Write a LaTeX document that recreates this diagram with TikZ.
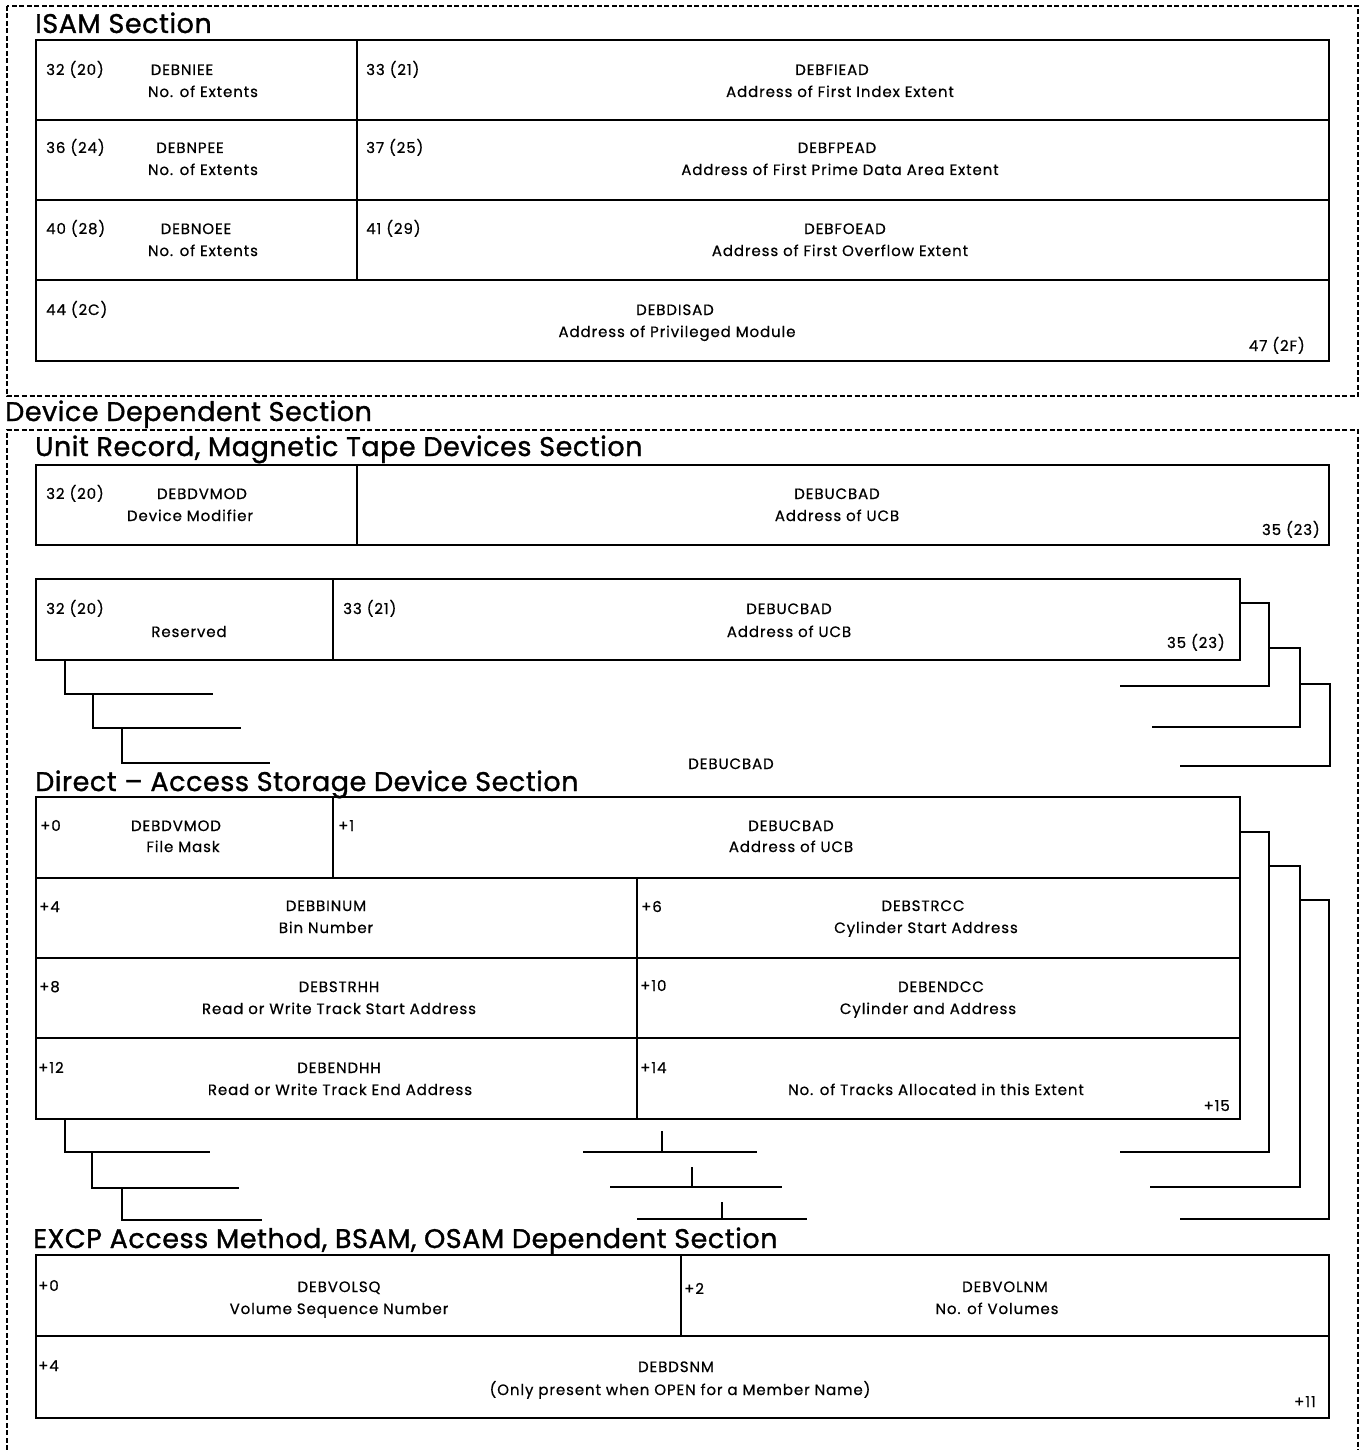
\documentclass[tikz,border=0pt]{standalone}
\usepackage{fontspec}
\newfontfamily\bodyf[LetterSpace=6,FakeBold=0.6]{Poppins}
\newfontfamily\titlef[LetterSpace=2,FakeBold=1.2]{Poppins}
\tikzset{
  cell/.style={draw, line width=2.4pt, inner sep=0pt, outer sep=0pt, anchor=north west},
  brk/.style={line width=2.4pt},
  dsh/.style={line width=1.3pt, dash pattern=on 5pt off 2.5pt},
  bt/.style={font=\bodyf\fontsize{15}{17}\selectfont, anchor=base, inner sep=0pt},
  btw/.style={bt, anchor=base west},
  bte/.style={bt, anchor=base east},
  ttl/.style={font=\titlef\fontsize{27}{31}\selectfont, anchor=base west, inner sep=0pt}
}
\newcommand\mycell[5]{\node[cell, minimum width={(#4)-(#2)}, minimum height={(#5)-(#3)}] (#1) at (#2,#3) {};}
\begin{document}
\begin{tikzpicture}[x=1pt,y=-1pt]
\useasboundingbox (0,0) rectangle (1360,1450);
% ---------- ISAM ----------
\draw[dsh] (7,6) rectangle (1358,396);
\node[ttl] (tisam) at (35,33) {ISAM Section};
\mycell{i1a}{36}{40}{357}{120}
\mycell{i1b}{357}{40}{1329}{120}
\mycell{i2a}{36}{120}{357}{200}
\mycell{i2b}{357}{120}{1329}{200}
\mycell{i3a}{36}{200}{357}{280}
\mycell{i3b}{357}{200}{1329}{280}
\mycell{i4}{36}{280}{1329}{361}
\node[btw] (o1) at (46,75) {32 (20)};
\node[bt] (n1) at (182,75) {DEBNIEE};
\node[bt] (d1) at (203,97) {No. of Extents};
\node[btw] (o2) at (366,75) {33 (21)};
\node[bt] (n2) at (832,75) {DEBFIEAD};
\node[bt] (d2) at (840,97) {Address of First Index Extent};
\node[btw] (o3) at (46,153) {36 (24)};
\node[bt] (n3) at (190,153) {DEBNPEE};
\node[bt] (d3) at (203,175) {No. of Extents};
\node[btw] (o4) at (366,153) {37 (25)};
\node[bt] (n4) at (837,153) {DEBFPEAD};
\node[bt] (d4) at (840,175) {Address of First Prime Data Area Extent};
\node[btw] (o5) at (46,234) {40 (28)};
\node[bt] (n5) at (196,234) {DEBNOEE};
\node[bt] (d5) at (203,256) {No. of Extents};
\node[btw] (o6) at (366,234) {41 (29)};
\node[bt] (n6) at (845,234) {DEBFOEAD};
\node[bt] (d6) at (840,256) {Address of First Overflow Extent};
\node[btw] (o7) at (46,315) {44 (2C)};
\node[bt] (n7) at (675,315) {DEBDISAD};
\node[bt] (d7) at (677,337) {Address of Privileged Module};
\node[bte] (e7) at (1305,351) {47 (2F)};
% ---------- Device dependent ----------
\node[ttl] (tdev) at (5,421) {Device Dependent Section};
\draw[dsh] (7,1450) -- (7,430) -- (1358,430) -- (1358,1450);
\node[ttl] (tur) at (35,456) {Unit Record, Magnetic Tape Devices Section};
\mycell{u1a}{36}{465}{357}{545}
\mycell{u1b}{357}{465}{1329}{545}
\node[btw] (o8) at (46,499) {32 (20)};
\node[bt] (n8) at (202,499) {DEBDVMOD};
\node[bt] (d8) at (190,521) {Device Modifier};
\node[bt] (n9) at (837,499) {DEBUCBAD};
\node[bt] (d9) at (837,521) {Address of UCB};
\node[bte] (e9) at (1320,535) {35 (23)};
\mycell{u2a}{36}{579}{333}{660}
\mycell{u2b}{333}{579}{1240}{660}
\node[btw] (o10) at (46,614) {32 (20)};
\node[bt] (d10) at (189,637) {Reserved};
\node[btw] (o11) at (343,614) {33 (21)};
\node[bt] (n11) at (789,614) {DEBUCBAD};
\node[bt] (d11) at (789,637) {Address of UCB};
\node[bte] (e11) at (1225,648) {35 (23)};
\draw[brk] (1240,603) -- (1269,603) -- (1269,686) -- (1120,686);
\draw[brk] (1269,648) -- (1300,648) -- (1300,727) -- (1152,727);
\draw[brk] (1300,684) -- (1330,684) -- (1330,766) -- (1180,766);
\draw[brk] (65,660) -- (65,694) -- (213,694);
\draw[brk] (93,694) -- (93,728) -- (241,728);
\draw[brk] (122,728) -- (122,763) -- (270,763);
\node[bt] (n12) at (731,769) {DEBUCBAD};
% ---------- DASD ----------
\node[ttl] (tda) at (35,791) {Direct – Access Storage Device Section};
\mycell{a1a}{36}{797}{333}{878}
\mycell{a1b}{333}{797}{1240}{878}
\mycell{a2a}{36}{878}{637}{958}
\mycell{a2b}{637}{878}{1240}{958}
\mycell{a3a}{36}{958}{637}{1038}
\mycell{a3b}{637}{958}{1240}{1038}
\mycell{a4a}{36}{1038}{637}{1119}
\mycell{a4b}{637}{1038}{1240}{1119}
\node[btw] (o13) at (40,831) {+0};
\node[bt] (n13) at (176,831) {DEBDVMOD};
\node[bt] (d13) at (183,852) {File Mask};
\node[btw] (o14) at (338,831) {+1};
\node[bt] (n14) at (791,831) {DEBUCBAD};
\node[bt] (d14) at (791,852) {Address of UCB};
\node[btw] (o15) at (39,912) {+4};
\node[bt] (n15) at (326,911) {DEBBINUM};
\node[bt] (d15) at (326,933) {Bin Number};
\node[btw] (o16) at (641,912) {+6};
\node[bt] (n16) at (923,911) {DEBSTRCC};
\node[bt] (d16) at (926,933) {Cylinder Start Address};
\node[btw] (o17) at (39,992) {+8};
\node[bt] (n17) at (339,992) {DEBSTRHH};
\node[bt] (d17) at (339,1014) {Read or Write Track Start Address};
\node[btw] (o18) at (640,991) {+10};
\node[bt] (n18) at (941,992) {DEBENDCC};
\node[bt] (d18) at (928,1014) {Cylinder and Address};
\node[btw] (o19) at (38,1073) {+12};
\node[bt] (n19) at (339,1073) {DEBENDHH};
\node[bt] (d19) at (340,1095) {Read or Write Track End Address};
\node[btw] (o20) at (640,1073) {+14};
\node[bt] (d20) at (936,1095) {No. of Tracks Allocated in this Extent};
\node[bte] (e20) at (1230,1111) {+15};
\draw[brk] (1240,832) -- (1269,832) -- (1269,1152) -- (1120,1152);
\draw[brk] (1269,866) -- (1300,866) -- (1300,1187) -- (1150,1187);
\draw[brk] (1300,900) -- (1329,900) -- (1329,1219) -- (1180,1219);
\draw[brk] (65,1119) -- (65,1152) -- (210,1152);
\draw[brk] (92,1152) -- (92,1188) -- (239,1188);
\draw[brk] (122,1188) -- (122,1220) -- (262,1220);
\draw[brk] (583,1152) -- (757,1152) (662,1152) -- (662,1131);
\draw[brk] (610,1187) -- (782,1187) (692,1187) -- (692,1167);
\draw[brk] (637,1219) -- (807,1219) (722,1219) -- (722,1202);
% ---------- EXCP ----------
\node[ttl] (tex) at (33,1248) {EXCP Access Method, BSAM, OSAM Dependent Section};
\mycell{x1a}{36}{1255}{681}{1336}
\mycell{x1b}{681}{1255}{1329}{1336}
\mycell{x2}{36}{1336}{1329}{1418}
\node[btw] (o21) at (38,1291) {+0};
\node[bt] (n21) at (339,1292) {DEBVOLSQ};
\node[bt] (d21) at (339,1314) {Volume Sequence Number};
\node[btw] (o22) at (684,1294) {+2};
\node[bt] (n22) at (1005,1292) {DEBVOLNM};
\node[bt] (d22) at (997,1314) {No. of Volumes};
\node[btw] (o23) at (38,1371) {+4};
\node[bt] (n23) at (676,1372) {DEBDSNM};
\node[bt] (d23) at (680,1395) {(Only present when OPEN for a Member Name)};
\node[bte] (e23) at (1316,1407) {+11};
\end{tikzpicture}
\end{document}
